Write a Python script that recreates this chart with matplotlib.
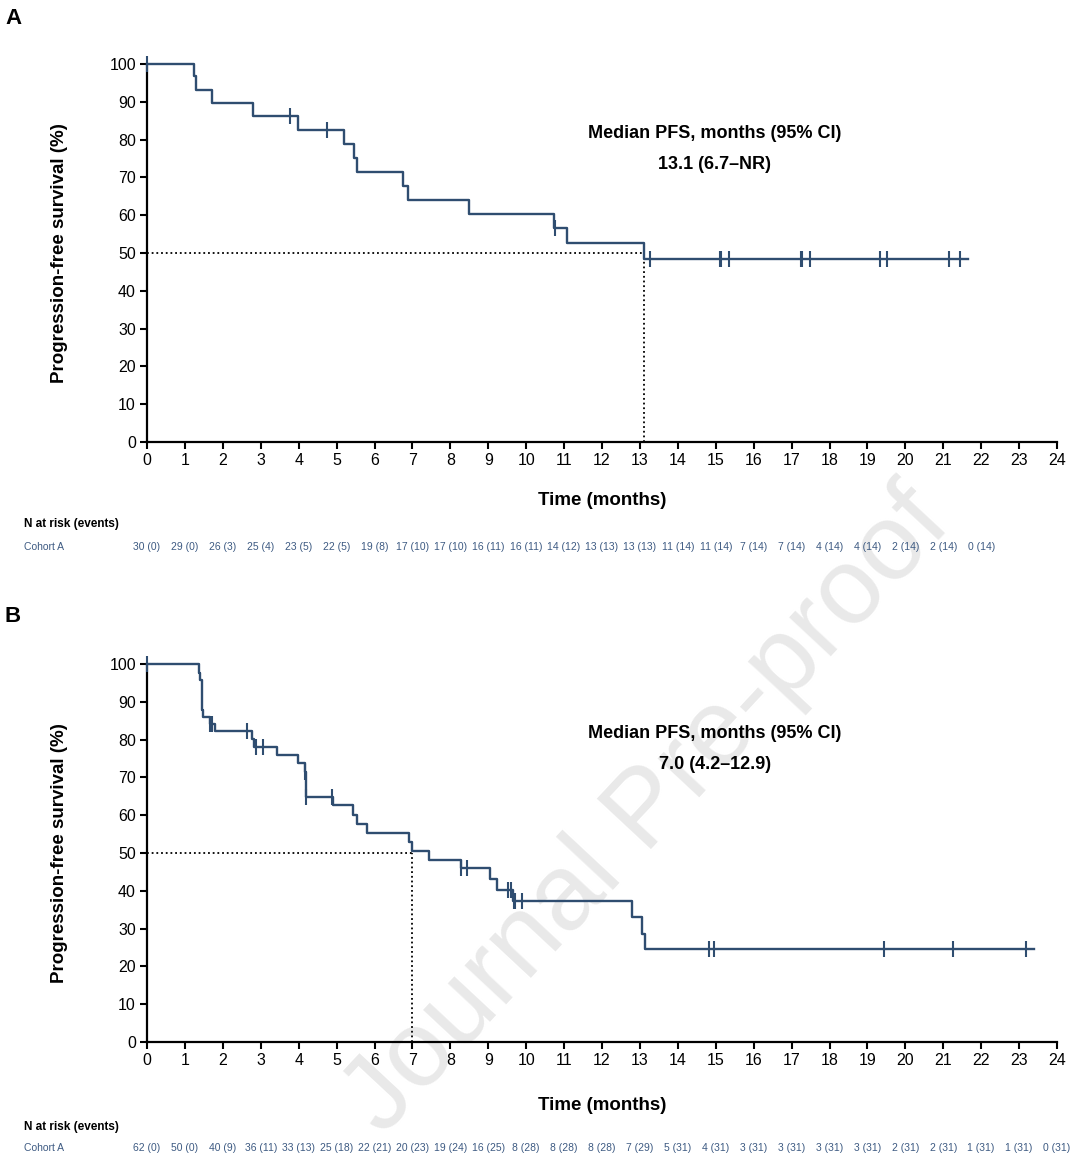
import numpy as np
import matplotlib
matplotlib.use("Agg")
import matplotlib.pyplot as plt
import matplotlib.transforms as mtransforms

plt.rcParams['font.family'] = ['Liberation Sans', 'DejaVu Sans']

# ---------------- Data ----------------
# Panel A (Cohort A, n=30)
times_A = [0, 1.24, 1.29, 1.71, 2.79, 3.97, 5.20, 5.47, 5.54, 6.76, 6.88, 8.49, 10.74, 11.07, 13.10]
surv_A = [100, 96.7, 93.2, 89.7, 86.3, 82.6, 78.9, 75.2, 71.5, 67.8, 64.0, 60.3, 56.5, 52.7, 48.4]
end_A = 21.64
censor_A = [0, 3.76, 4.76, 10.75, 13.26, 15.10, 15.13, 15.35, 17.24, 17.27, 17.49, 19.33, 19.51, 21.16, 21.44]
median_A = 13.1
risk_A_n = [30, 29, 26, 25, 23, 22, 19, 17, 17, 16, 16, 14, 13, 13, 11, 11, 7, 7, 4, 4, 2, 2, 0]
risk_A_e = [0, 0, 3, 4, 5, 5, 8, 10, 10, 11, 11, 12, 13, 13, 14, 14, 14, 14, 14, 14, 14, 14, 14]
text_A = ["Median PFS, months (95% CI)", "13.1 (6.7\u2013NR)"]

# Panel B (Cohort A, n=62)
times_B = [0, 1.36, 1.41, 1.44, 1.47, 1.65, 1.80, 2.76, 2.82, 3.42, 3.97, 4.17, 4.19, 4.91,
           5.44, 5.53, 5.79, 6.91, 6.98, 7.44, 8.28, 9.04, 9.22, 9.65, 12.79, 13.06, 13.14]
surv_B = [100, 97.7, 95.8, 87.8, 86.1, 84.1, 82.2, 80.1, 78.1, 75.8, 73.7, 71.5, 64.9, 62.7,
          60.1, 57.8, 55.3, 52.9, 50.4, 48.2, 45.9, 43.1, 40.3, 37.4, 33.0, 28.6, 24.5]
end_B = 23.39
censor_B = [0, 1.65, 1.71, 2.63, 2.88, 3.05, 4.17, 4.20, 4.87, 8.28, 8.43, 9.52, 9.61, 9.68,
            9.70, 9.88, 14.81, 14.96, 19.45, 21.26, 23.18]
median_B = 7.0
risk_B_n = [62, 50, 40, 36, 33, 25, 22, 20, 19, 16, 8, 8, 8, 7, 5, 4, 3, 3, 3, 3, 2, 2, 1, 1, 0]
risk_B_e = [0, 0, 9, 11, 13, 18, 21, 23, 24, 25, 28, 28, 28, 29, 31, 31, 31, 31, 31, 31, 31, 31, 31, 31, 31]
text_B = ["Median PFS, months (95% CI)", "7.0 (4.2\u201312.9)"]

x_ticks = list(range(0, 25))
y_ticks = list(range(0, 101, 10))

LINE = '#2f4d70'
TBL = '#3d5a82'

W, H = 1080, 1161
fig = plt.figure(figsize=(W / 100, H / 100), dpi=100)
fig.patch.set_facecolor('white')


def fx(px):
    return px / W


def fy(py):
    return 1 - py / H


# Watermark
fig.text(fx(648), fy(812), "Journal Pre-proof", fontsize=78, color='#e9e9e9',
         rotation=47, ha='center', va='center', zorder=-5)


def panel(top, bottom, letter, times, surv, end, censors, median, risk_n, risk_e, texts,
          letter_y, risk_head_y, risk_row_y, xlabel_y):
    left, right = 147, 1057
    ax = fig.add_axes([fx(left), fy(bottom), fx(right - left), (bottom - top) / H])
    ax.patch.set_alpha(0)
    ax.set_xlim(0, 24)
    ax.set_ylim(0, 100)
    for s in ['top', 'right']:
        ax.spines[s].set_visible(False)
    for s in ['left', 'bottom']:
        ax.spines[s].set_linewidth(1.6)
        ax.spines[s].set_color('black')
    ax.set_xticks(x_ticks)
    ax.set_yticks(y_ticks)
    ax.tick_params(direction='out', length=5, width=1.5, labelsize=11.5, pad=3, colors='black')

    # median lines
    ax.plot([0, median], [50, 50], color='black', linestyle=(0, (1, 1.6)), lw=1.3, zorder=2)
    ax.plot([median, median], [0, 50], color='black', linestyle=(0, (1, 1.6)), lw=1.3, zorder=2)

    xs = list(times) + [end]
    ys = list(surv) + [surv[-1]]
    ax.step(xs, ys, where='post', color=LINE, lw=1.7, zorder=3, clip_on=False)
    t = np.array(times)
    s = np.array(surv)
    cy = [s[np.searchsorted(t, c, side='right') - 1] for c in censors]
    ax.plot(censors, cy, linestyle='none', marker='|', markersize=11, mew=1.5,
            color=LINE, zorder=4, clip_on=False)

    # annotation
    ax.text(0.624, 0.817, texts[0], transform=ax.transAxes, ha='center', va='center',
            fontsize=13, fontweight='bold')
    ax.text(0.624, 0.733, texts[1], transform=ax.transAxes, ha='center', va='center',
            fontsize=13, fontweight='bold')

    # labels
    fig.text(fx(60), fy((top + bottom) / 2), "Progression-free survival (%)", rotation=90,
             ha='center', va='center', fontsize=13.5, fontweight='bold')
    fig.text(fx(602), fy(xlabel_y), "Time (months)", ha='center', va='center',
             fontsize=13.5, fontweight='bold')
    fig.text(fx(5), fy(letter_y), letter, ha='left', va='center', fontsize=16, fontweight='bold')

    # risk table
    fig.text(fx(24), fy(risk_head_y), "N at risk (events)", ha='left', va='center',
             fontsize=8.5, fontweight='bold')
    fig.text(fx(24), fy(risk_row_y), "Cohort A", ha='left', va='center',
             fontsize=7.5, color=TBL)
    trans = mtransforms.blended_transform_factory(ax.transData, fig.transFigure)
    for i, (n, e) in enumerate(zip(risk_n, risk_e)):
        fig.text(i, fy(risk_row_y), f"{n} ({e})", transform=trans, ha='center', va='center',
                 fontsize=7.5, color=TBL)
    return ax


panel(64, 442, "A", times_A, surv_A, end_A, censor_A, median_A, risk_A_n, risk_A_e, text_A,
      letter_y=19, risk_head_y=524, risk_row_y=547, xlabel_y=500)
panel(664, 1042, "B", times_B, surv_B, end_B, censor_B, median_B, risk_B_n, risk_B_e, text_B,
      letter_y=617, risk_head_y=1127, risk_row_y=1148, xlabel_y=1105)

fig.savefig("out.png", dpi=100, facecolor='white')
